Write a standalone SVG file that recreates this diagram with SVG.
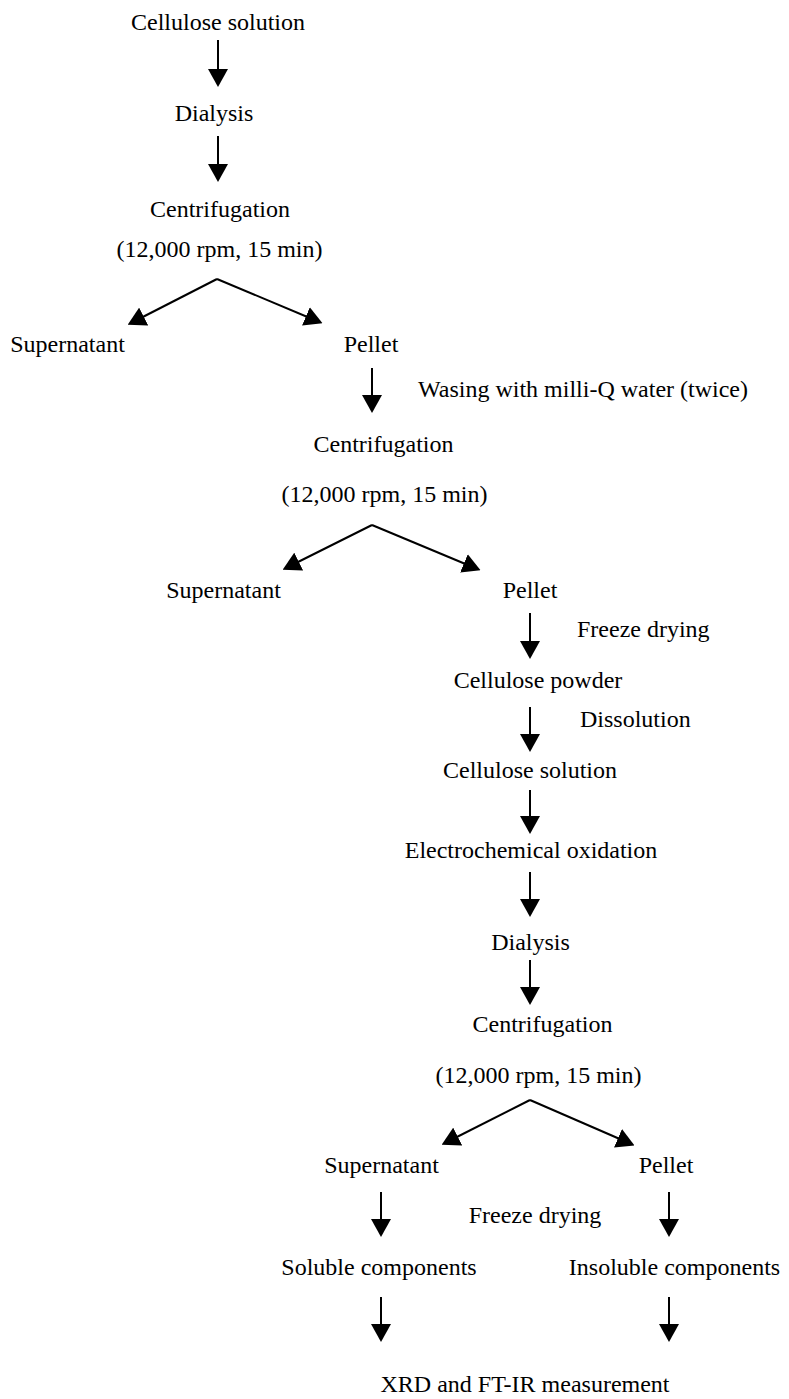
<svg xmlns="http://www.w3.org/2000/svg" width="789" height="1399" viewBox="0 0 789 1399">
<style>
.t{font-family:'Liberation Serif','Times New Roman',serif;font-size:24px;fill:#000}
.c{text-anchor:middle}
.s{text-anchor:start}
.ln{stroke:#000;stroke-width:2;fill:none}
</style>
<defs>
<marker id="ah" viewBox="0 0 18 20" refX="12" refY="10" markerWidth="18" markerHeight="20" markerUnits="userSpaceOnUse" orient="auto">
<path d="M0,0 L18,10 L0,20 Z" fill="#000"/>
</marker>
</defs>
<rect width="789" height="1399" fill="#fff"/>
<g id="connectors">
<line class="ln" x1="218" y1="40" x2="218" y2="81" marker-end="url(#ah)"/>
<line class="ln" x1="218" y1="136" x2="218" y2="176" marker-end="url(#ah)"/>
<line class="ln" x1="217" y1="279" x2="133" y2="322" marker-end="url(#ah)"/>
<line class="ln" x1="217" y1="279" x2="317" y2="321" marker-end="url(#ah)"/>
<line class="ln" x1="372" y1="368" x2="372" y2="407" marker-end="url(#ah)"/>
<line class="ln" x1="372" y1="525" x2="288" y2="567" marker-end="url(#ah)"/>
<line class="ln" x1="372" y1="525" x2="475" y2="568" marker-end="url(#ah)"/>
<line class="ln" x1="530" y1="613" x2="530" y2="653" marker-end="url(#ah)"/>
<line class="ln" x1="530" y1="707" x2="530" y2="746" marker-end="url(#ah)"/>
<line class="ln" x1="530" y1="790" x2="530" y2="828" marker-end="url(#ah)"/>
<line class="ln" x1="530" y1="872" x2="530" y2="911" marker-end="url(#ah)"/>
<line class="ln" x1="530" y1="960" x2="530" y2="999" marker-end="url(#ah)"/>
<line class="ln" x1="530" y1="1100" x2="447" y2="1142" marker-end="url(#ah)"/>
<line class="ln" x1="530" y1="1100" x2="629" y2="1143" marker-end="url(#ah)"/>
<line class="ln" x1="381" y1="1192" x2="381" y2="1231" marker-end="url(#ah)"/>
<line class="ln" x1="669" y1="1192" x2="669" y2="1231" marker-end="url(#ah)"/>
<line class="ln" x1="381" y1="1297" x2="381" y2="1336" marker-end="url(#ah)"/>
<line class="ln" x1="669" y1="1297" x2="669" y2="1336" marker-end="url(#ah)"/>
</g>
<g id="n1"><text class="t c" x="218" y="30">Cellulose solution</text></g>
<g id="n2"><text class="t c" x="214" y="121">Dialysis</text></g>
<g id="n3"><text class="t c" x="220" y="217">Centrifugation</text><text class="t c" x="219.5" y="257">(12,000 rpm, 15 min)</text></g>
<g id="n4"><text class="t c" x="67.5" y="352">Supernatant</text></g>
<g id="n5"><text class="t c" x="371" y="352">Pellet</text></g>
<g id="l1"><text class="t s" x="418" y="397">Wasing with milli-Q water (twice)</text></g>
<g id="n6"><text class="t c" x="383.5" y="452">Centrifugation</text><text class="t c" x="384.5" y="502">(12,000 rpm, 15 min)</text></g>
<g id="n7"><text class="t c" x="223.5" y="598">Supernatant</text></g>
<g id="n8"><text class="t c" x="530" y="598">Pellet</text></g>
<g id="l2"><text class="t s" x="577" y="637">Freeze drying</text></g>
<g id="n9"><text class="t c" x="538" y="688">Cellulose powder</text></g>
<g id="l3"><text class="t s" x="580" y="727">Dissolution</text></g>
<g id="n10"><text class="t c" x="530" y="778">Cellulose solution</text></g>
<g id="n11"><text class="t c" x="531" y="858">Electrochemical oxidation</text></g>
<g id="n12"><text class="t c" x="530.5" y="950">Dialysis</text></g>
<g id="n13"><text class="t c" x="542.5" y="1032">Centrifugation</text><text class="t c" x="538.5" y="1083">(12,000 rpm, 15 min)</text></g>
<g id="n14"><text class="t c" x="381.5" y="1173">Supernatant</text></g>
<g id="n15"><text class="t c" x="666" y="1173">Pellet</text></g>
<g id="l4"><text class="t c" x="535" y="1223">Freeze drying</text></g>
<g id="n16"><text class="t c" x="379" y="1275">Soluble components</text></g>
<g id="n17"><text class="t c" x="674.5" y="1275">Insoluble components</text></g>
<g id="n18"><text class="t c" x="525" y="1392">XRD and FT-IR measurement</text></g>
</svg>
